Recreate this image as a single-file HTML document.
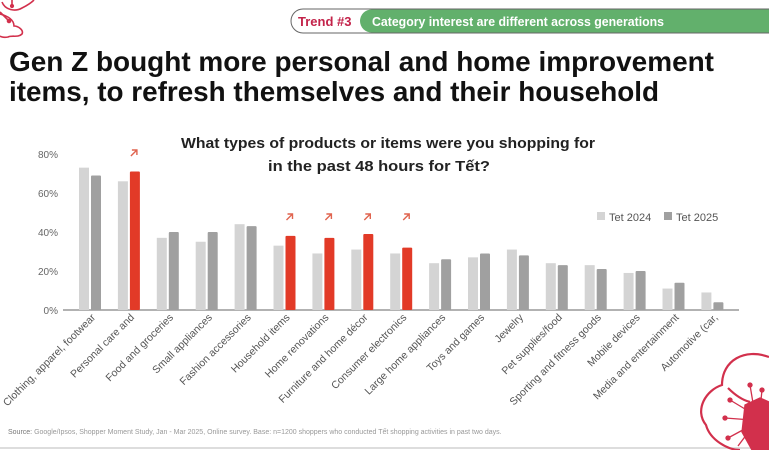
<!DOCTYPE html>
<html><head><meta charset="utf-8"><style>
html,body{margin:0;padding:0;background:#fff;}
svg{display:block;font-family:"Liberation Sans",sans-serif;}
</style></head><body>
<svg width="769" height="450" viewBox="0 0 769 450" xmlns="http://www.w3.org/2000/svg">
<rect width="769" height="450" fill="#fff"/>
<g fill="none" stroke="#d2304c" stroke-width="1.6">
<path d="M2,2 C5,10 15,12 22,8 C30,4 34,0 34,0"/>
<path d="M0,14 C8,16 14,20 14,26 C18,26 24,30 22,34 C18,38 12,35 8,37 C2,38 0,36 0,36"/>
<line x1="0" y1="12" x2="8" y2="20"/><circle cx="9" cy="21" r="1.5" fill="#d2304c"/>
<line x1="12" y1="0" x2="12" y2="6"/><circle cx="12" cy="6" r="1.3" fill="#d2304c"/>
</g>
<rect x="291" y="9" width="500" height="24" rx="12" fill="#fff" stroke="#666" stroke-width="1"/>
<rect x="360" y="9.5" width="420" height="23" rx="11.5" fill="#62b06c"/>
<text x="298" y="26" font-size="13" font-weight="bold" fill="#c3234a">Trend #3</text>
<text x="372" y="26" font-size="12.5" font-weight="bold" fill="#fff" textLength="292" lengthAdjust="spacingAndGlyphs">Category interest are different across generations</text>
<text x="9" y="71" font-size="27.5" font-weight="bold" fill="#111" textLength="705" lengthAdjust="spacingAndGlyphs">Gen Z bought more personal and home improvement</text>
<text x="9" y="101" font-size="27.5" font-weight="bold" fill="#111" textLength="650" lengthAdjust="spacingAndGlyphs">items, to refresh themselves and their household</text>
<text x="181" y="148" font-size="15" font-weight="bold" fill="#222" textLength="414" lengthAdjust="spacingAndGlyphs">What types of products or items were you shopping for</text>
<text x="268" y="171" font-size="15" font-weight="bold" fill="#222" textLength="222" lengthAdjust="spacingAndGlyphs">in the past 48 hours for Tết?</text>
<g font-size="10" fill="#666" text-anchor="end">
<text x="58" y="158">80%</text><text x="58" y="197">60%</text><text x="58" y="236">40%</text><text x="58" y="275">20%</text><text x="58" y="314">0%</text>
</g>
<line x1="63" y1="310" x2="739" y2="310" stroke="#999" stroke-width="1.5"/>
<rect x="597" y="212" width="8" height="8" fill="#d4d4d4"/><text x="609" y="221" font-size="11" fill="#555">Tet 2024</text>
<rect x="664" y="212" width="8" height="8" fill="#a0a0a0"/><text x="676" y="221" font-size="11" fill="#555">Tet 2025</text>
<g id="bars"></g>
<g id="labels" font-size="10.5" fill="#555"></g>
<text x="8" y="434" font-size="7" fill="#999"><tspan fill="#777">Source:</tspan> Google/Ipsos, Shopper Moment Study, Jan - Mar 2025, Online survey. Base: n=1200 shoppers who conducted Tết shopping activities in past two days.</text>
<line x1="0" y1="448" x2="769" y2="448" stroke="#ddd" stroke-width="2"/>
<g stroke="#d2304c" stroke-width="2.2" fill="none">
<path d="M769,357 C745,348 722,360 722,385 C706,390 694,410 706,425 C710,440 728,450 740,450"/>
<path d="M728,388 C735,395 742,400 750,402"/>
</g>
<g stroke="#d2304c" stroke-width="1.3" fill="#d2304c">
<polygon points="745,405 760,398 769,402 769,450 752,450 742,432"/>
<line x1="755" y1="415" x2="750" y2="385"/><circle cx="750" cy="385" r="2"/>
<line x1="755" y1="415" x2="730" y2="400"/><circle cx="730" cy="400" r="2"/>
<line x1="752" y1="420" x2="725" y2="418"/><circle cx="725" cy="418" r="2"/>
<line x1="752" y1="425" x2="728" y2="438"/><circle cx="728" cy="438" r="2"/>
<line x1="760" y1="410" x2="762" y2="390"/><circle cx="762" cy="390" r="2"/>
<line x1="750" y1="430" x2="738" y2="446"/>
</g>
<script>
var d=[["Clothing, apparel, footwear",73,69,0],["Personal care and",66,71,1],["Food and groceries",37,40,0],["Small appliances",35,40,0],["Fashion accessories",44,43,0],["Household items",33,38,1],["Home renovations",29,37,1],["Furniture and home décor",31,39,1],["Consumer electronics",29,32,1],["Large home appliances",24,26,0],["Toys and games",27,29,0],["Jewelry",31,28,0],["Pet supplies/food",24,23,0],["Sporting and fitness goods",23,21,0],["Mobile devices",19,20,0],["Media and entertainment",11,14,0],["Automotive (car,",9,4,0]];
var ns="http://www.w3.org/2000/svg",B=document.getElementById("bars"),L=document.getElementById("labels");
function el(t,a,p){var e=document.createElementNS(ns,t);for(var k in a)e.setAttribute(k,a[k]);p.appendChild(e);return e;}
d.forEach(function(r,i){var x=79+38.9*i,s=1.95;
var h1=r[1]*s,h2=r[2]*s;
el("rect",{x:x,y:310-h1,width:10,height:h1,fill:"#d4d4d4"},B);
el("rect",{x:x+12,y:310-h2,width:10,height:h2,fill:r[3]?"#e23a27":"#a0a0a0",rx:1},B);
if(r[3]){var ax=x+13,ay=(i==1)?150:214;
el("path",{d:"M"+ax+","+(ay+6)+" L"+(ax+6)+","+ay+" M"+(ax+1)+","+ay+" L"+(ax+6)+","+ay+" L"+(ax+6)+","+(ay+5),stroke:"#e0644f","stroke-width":1.4,fill:"none"},B);}
var t=el("text",{x:0,y:0,"text-anchor":"end",transform:"translate("+(x+17)+",318) rotate(-45)"},L);t.textContent=r[0];});
</script>
</svg>
</body></html>
